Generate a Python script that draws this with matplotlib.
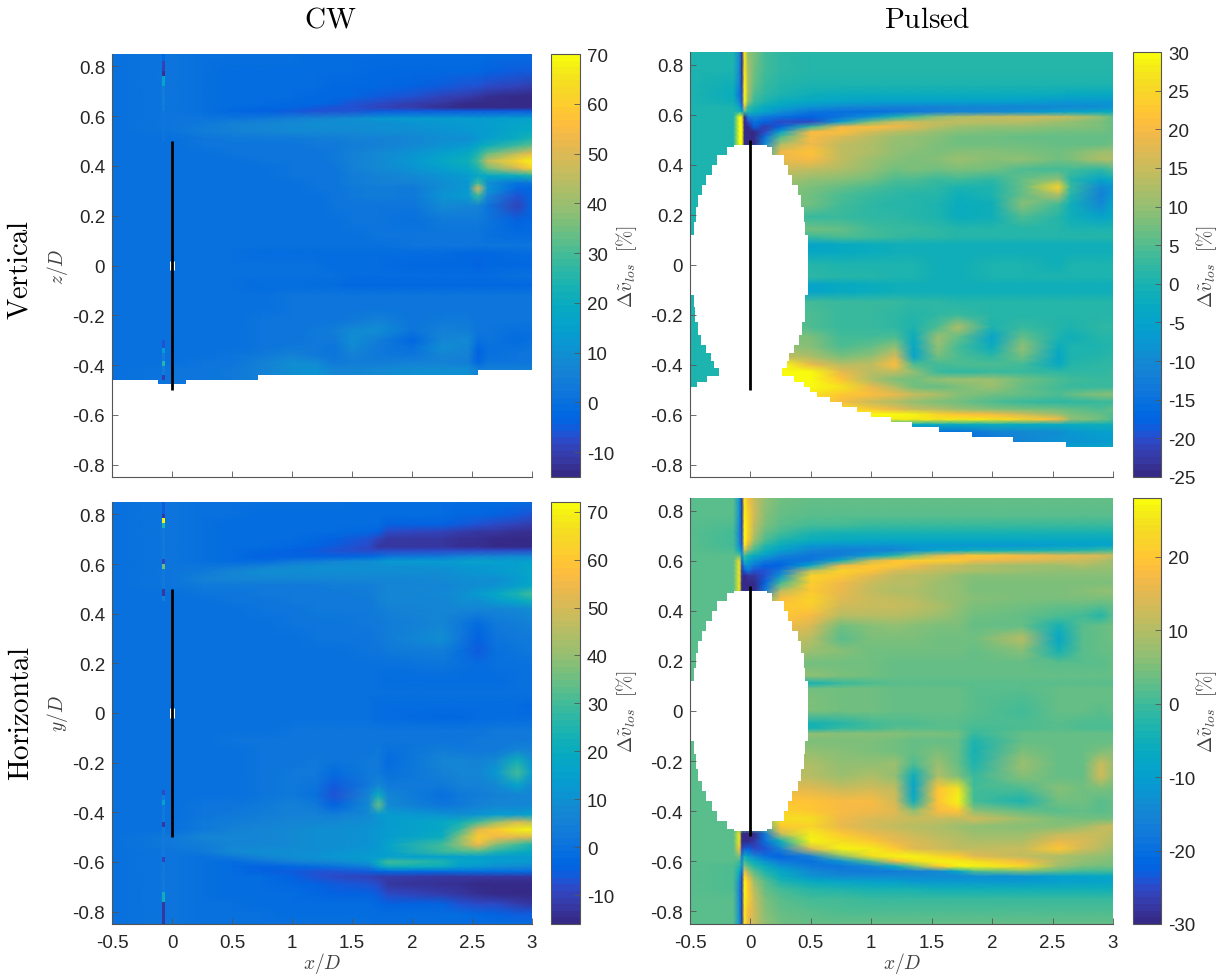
import matplotlib
matplotlib.use("Agg")
import matplotlib.pyplot as plt
from matplotlib.colors import ListedColormap, Normalize

parula = ListedColormap([
    (0.2081, 0.1663, 0.5292), (0.2116, 0.1898, 0.5777), (0.2123, 0.2138, 0.6270), (0.2081, 0.2386, 0.6771),
    (0.1959, 0.2645, 0.7279), (0.1707, 0.2919, 0.7792), (0.1253, 0.3242, 0.8303), (0.0591, 0.3598, 0.8683),
    (0.0117, 0.3875, 0.8820), (0.0060, 0.4086, 0.8828), (0.0165, 0.4266, 0.8786), (0.0329, 0.4430, 0.8720),
    (0.0498, 0.4586, 0.8641), (0.0629, 0.4737, 0.8554), (0.0723, 0.4887, 0.8467), (0.0779, 0.5040, 0.8384),
    (0.0793, 0.5200, 0.8312), (0.0749, 0.5375, 0.8263), (0.0641, 0.5570, 0.8240), (0.0488, 0.5772, 0.8228),
    (0.0343, 0.5966, 0.8199), (0.0265, 0.6137, 0.8135), (0.0239, 0.6287, 0.8038), (0.0231, 0.6418, 0.7913),
    (0.0228, 0.6535, 0.7768), (0.0267, 0.6642, 0.7607), (0.0384, 0.6743, 0.7436), (0.0590, 0.6838, 0.7254),
    (0.0843, 0.6928, 0.7062), (0.1133, 0.7015, 0.6859), (0.1453, 0.7098, 0.6646), (0.1801, 0.7177, 0.6424),
    (0.2178, 0.7250, 0.6193), (0.2586, 0.7317, 0.5954), (0.3022, 0.7376, 0.5712), (0.3482, 0.7424, 0.5473),
    (0.3953, 0.7459, 0.5244), (0.4420, 0.7481, 0.5033), (0.4871, 0.7491, 0.4840), (0.5300, 0.7491, 0.4661),
    (0.5709, 0.7485, 0.4494), (0.6099, 0.7473, 0.4337), (0.6473, 0.7456, 0.4188), (0.6834, 0.7435, 0.4044),
    (0.7184, 0.7411, 0.3905), (0.7525, 0.7384, 0.3768), (0.7858, 0.7356, 0.3633), (0.8185, 0.7327, 0.3498),
    (0.8507, 0.7299, 0.3360), (0.8824, 0.7274, 0.3217), (0.9139, 0.7258, 0.3063), (0.9450, 0.7261, 0.2886),
    (0.9739, 0.7314, 0.2666), (0.9938, 0.7455, 0.2403), (0.9990, 0.7653, 0.2164), (0.9955, 0.7861, 0.1967),
    (0.9880, 0.8066, 0.1794), (0.9789, 0.8271, 0.1633), (0.9697, 0.8481, 0.1475), (0.9626, 0.8705, 0.1309),
    (0.9589, 0.8949, 0.1132), (0.9598, 0.9218, 0.0948), (0.9661, 0.9514, 0.0755), (0.9763, 0.9831, 0.0538)])

# x positions of the table columns, one list per panel
cwv_x = [-0.5, 0, 0.25, 0.5, 0.75, 1, 1.2, 1.35, 1.5, 1.72, 2, 2.25, 2.47, 2.55, 2.63, 2.88, 3]
cwh_x = [-0.5, 0, 0.25, 0.5, 0.75, 1, 1.2, 1.35, 1.64, 1.72, 1.8, 2.25, 2.4, 2.55, 2.7, 2.88, 3]
pv_x = [-0.5, -0.14, -0.09, -0.07, -0.05, -0.02, 0.03, 0.12, 0.25, 0.5, 0.75, 1, 1.2, 1.35, 1.55, 1.72, 2, 2.25, 2.55, 2.65, 2.9, 3]
ph_x = [-0.5, -0.14, -0.09, -0.07, -0.05, -0.02, 0.03, 0.12, 0.25, 0.5, 0.75, 1, 1.2, 1.35, 1.55, 1.72, 1.85, 2.25, 2.55, 2.75, 2.9, 3]

# CW vertical
cwv_y = [0.85, 0.78, 0.72, 0.68, 0.65, 0.635, 0.62, 0.59, 0.57, 0.54, 0.51, 0.48, 0.45, 0.42, 0.39, 0.36, 0.33, 0.31, 0.28, 0.24,
         0.18, 0.12, 0.08, 0.05, 0.0, -0.04, -0.08, -0.12, -0.17, -0.22, -0.26, -0.30, -0.33, -0.36, -0.39, -0.42, -0.48]
cwv_vals = [
    [0, 1, 0, 0, 0, 0, -1, -1, -1, -1, -1, -1, -1, -1, -1, -1, -1],
    [0, 1, 0, -1, -1, -1, -1, -1, -1, -2, -2, -2, -3, -3, -4, -5, -5],
    [0, 1, 0, -1, -1, -1, -1, -2, -2, -3, -4, -5, -6, -7, -8, -9, -10],
    [0, 1, 0, -1, -1, -1, -2, -2, -3, -5, -7, -9, -11, -12, -13, -14, -15],
    [0, 1, 0, -1, -1, -2, -3, -4, -6, -8, -10, -12, -14, -14, -15, -15, -15],
    [0, 1, 0, -1, -2, -3, -5, -6, -7, -9, -11, -13, -14, -14, -14, -14, -14],
    [0, 1, 0, -2, -4, -5, -6, -6, -6, -5, -5, -5, -5, -5, -5, -5, -5],
    [0, 1, 1, 1, 3, 6, 7, 8, 10, 12, 13, 13, 13, 13, 14, 15, 15],
    [0, 1, 3, 5, 7, 8, 9, 9, 10, 10, 11, 12, 13, 14, 15, 16, 17],
    [0, 1, 4, 6, 7, 8, 8, 8, 8, 9, 10, 11, 12, 13, 14, 17, 19],
    [0, 0, 2, 3, 3, 3, 4, 4, 5, 6, 7, 9, 10, 12, 15, 20, 24],
    [0, 0, 1, 1, 2, 2, 3, 3, 4, 6, 8, 11, 14, 17, 22, 30, 33],
    [0, 0, 0, 1, 1, 2, 2, 3, 5, 8, 11, 15, 19, 24, 33, 45, 52],
    [0, 0, 0, 0, 1, 1, 2, 3, 5, 8, 12, 17, 22, 30, 45, 62, 68],
    [0, 0, 0, 0, 0, 1, 2, 2, 5, 8, 11, 15, 19, 24, 35, 50, 60],
    [0, 0, 0, 0, 0, 1, 1, 2, 4, 6, 8, 11, 13, 18, 18, 20, 24],
    [0, 0, 0, 0, 0, 0, 1, 2, 4, 5, 5, 10, 12, 30, 10, 0, 1],
    [0, 0, 0, 0, 0, 0, 1, 1, 3, 4, 3, 10, 12, 50, 12, -3, -3],
    [0, 0, 0, 0, 0, 0, 0, 1, 3, 4, 3, 11, 13, 28, 7, -6, -3],
    [0, 0, 0, 0, 0, 0, 0, 1, 2, 1, 1, 8, 7, 7, 2, -9, -3],
    [0, 0, 0, 0, 0, 0, 0, 0, 1, 1, 0, 3, 3, 3, 1, -4, -2],
    [0, 0, 0, 0, 0, 0, 0, 0, 0, 1, 1, 1, 1, 1, 0, -1, -1],
    [0, 0, 0, 0, 0, 0, 0, 0, 0, 0, 1, 1, 1, 1, 1, 1, 1],
    [0, 0, 0, 0, -1, -1, -1, -1, -1, -1, -1, -1, -2, -2, -2, -1, -1],
    [0, 0, 0, 0, 0, 0, 0, -1, -1, -1, -2, -2, -3, -4, -3, -2, -2],
    [0, 0, 0, 0, 0, 0, 0, 0, -1, -1, -1, -1, -1, -1, -1, 0, 0],
    [0, 0, 0, 0, -1, -1, -1, -1, -2, -2, -2, -2, -2, -2, -2, -2, -2],
    [0, 0, 0, 0, 0, 1, 1, 1, 1, 1, 2, 2, 2, 2, 2, 2, 2],
    [0, 0, 0, 0, 0, 1, 1, 1, 2, 2, 1, 1, 2, 2, 2, 1, 1],
    [0, 0, 0, 0, 1, 1, 2, 2, 3, 6, 2, 3, 3, 2, 1, 1, 1],
    [0, 0, 0, 0, 1, 2, 3, 4, 8, 9, 1, 5, 4, 2, 1, 0, 0],
    [0, 0, 0, 0, 1, 2, 3, 3, 9, 4, -3, 7, 8, 0, 1, -1, 0],
    [0, 0, 0, 0, 1, 3, 3, 2, 8, 3, 0, 9, 7, -2, 0, 0, 1],
    [0, 0, 0, 1, 3, 5, 3, 2, 5, 3, 2, 7, 5, -4, 0, 1, 1],
    [0, 0, 1, 2, 6, 9, 8, 3, 4, 4, 5, 6, 4, -3, 2, 2, 2],
    [0, 1, 1, 3, 6, 10, 11, 7, 7, 8, 9, 10, 9, 6, 6, 5, 5],
    [0, 1, 1, 3, 6, 10, 11, 7, 7, 8, 9, 10, 9, 6, 6, 5, 5],
]
cwv_strip_edges = [0.85, 0.82, 0.78, 0.76, 0.72, 0.62, 0.50, -0.30, -0.33, -0.35, -0.385, -0.405, -0.44, -0.46]
cwv_strip_vals = [-2, -9, -13, 16, 4, 2, 0, -6, 14, 4, 26, 4, -10]
cwv_edge_x = [-0.5, -0.12, 0.12, 0.72, 2.55, 3]
cwv_edge_y = [-0.46, -0.478, -0.46, -0.44, -0.42, -0.42]

# CW horizontal
cwh_y = [0.85, 0.80, 0.76, 0.73, 0.70, 0.67, 0.655, 0.63, 0.61, 0.59, 0.57, 0.54, 0.51, 0.48, 0.45, 0.42, 0.36, 0.30, 0.25, 0.19,
         0.13, 0.08, 0.03, -0.02, -0.07, -0.11, -0.15, -0.19, -0.24, -0.29, -0.33, -0.37, -0.41, -0.44, -0.47, -0.50, -0.53, -0.56,
         -0.58, -0.60, -0.62, -0.64, -0.66, -0.69, -0.73, -0.77, -0.81, -0.85]
cwh_vals = [
    [0, 1, 0, 0, 0, 0, 0, 0, -1, -1, -1, -1, -1, -1, -2, -2, -2],
    [0, 1, 0, 0, -1, -1, -1, -1, -1, -1, -2, -2, -3, -3, -4, -6, -7],
    [0, 1, 0, -1, -1, -1, -1, -2, -2, -2, -4, -5, -6, -7, -9, -10, -11],
    [0, 1, 0, -1, -1, -1, -2, -2, -3, -5, -9, -10, -11, -12, -13, -14, -14],
    [0, 1, 0, -1, -1, -2, -3, -4, -7, -10, -13, -13, -14, -14, -15, -15, -15],
    [0, 1, 0, -1, -2, -3, -4, -6, -9, -12, -13, -13, -14, -14, -15, -15, -15],
    [0, 1, 0, -2, -3, -4, -6, -7, -8, -8, -8, -8, -8, -8, -8, -8, -8],
    [0, 1, 0, -2, -4, -5, -5, -4, -3, -1, 1, 3, 5, 6, 7, 8, 8],
    [0, 1, 0, -1, -2, 2, 4, 6, 9, 11, 13, 14, 15, 16, 15, 15, 15],
    [0, 1, 1, 3, 5, 8, 9, 9, 9, 9, 10, 11, 12, 12, 13, 15, 17],
    [0, 1, 3, 7, 9, 9, 9, 9, 9, 9, 9, 10, 11, 12, 13, 15, 18],
    [0, 1, 5, 6, 6, 6, 6, 6, 6, 7, 7, 8, 9, 9, 10, 13, 16],
    [0, 1, 2, 3, 3, 3, 3, 4, 4, 5, 6, 7, 8, 9, 11, 15, 19],
    [0, 0, 1, 1, 2, 2, 3, 3, 4, 5, 6, 8, 10, 13, 17, 25, 30],
    [0, 0, 0, 1, 1, 2, 2, 3, 3, 5, 6, 7, 9, 10, 13, 18, 22],
    [0, 0, 0, 0, 1, 1, 2, 2, 3, 4, 5, 6, 7, 7, 7, 8, 10],
    [0, 0, 0, 0, 0, 1, 1, 1, 2, 3, 4, 7, 3, -1, 2, 4, 5],
    [0, 0, 0, 0, 0, 0, 1, 1, 1, 2, 4, 9, 2, -5, 1, 3, 3],
    [0, 0, 0, 0, 0, 0, 0, 0, 1, 1, 2, 4, 0, -6, 0, 1, 2],
    [0, 0, 0, 0, 0, 0, 0, 0, 0, 0, 0, 1, 0, -2, 0, 0, 0],
    [0, 0, 0, 0, 0, 0, 0, 0, 0, 0, -1, -1, -1, -2, -1, 0, 0],
    [0, 0, 0, 0, 0, 0, 0, 0, 0, 0, 0, 0, 0, 0, 0, 0, 0],
    [0, 0, 0, 0, 0, 0, 0, 0, 0, -1, -1, -1, -1, -1, -1, -2, -3],
    [0, 0, 0, 0, 0, 0, 0, 0, 0, -1, -2, -3, -3, -2, -2, -1, -1],
    [0, 0, 0, 0, 0, 1, 1, 1, 1, 1, 1, 1, 1, 1, 2, 2, 2],
    [0, 0, 0, 1, 1, 1, 1, 1, 1, 1, 1, 1, 1, 2, 2, 3, 3],
    [0, 0, 0, 0, 1, 1, 1, 1, 1, 2, 0, 4, 3, 2, 3, 6, 5],
    [0, 0, 0, 0, 1, 1, 2, 1, 3, 3, -1, 6, 7, 5, 8, 22, 10],
    [0, 0, 0, 0, 1, 2, 2, -2, 3, 3, 0, 5, 7, 6, 12, 30, 14],
    [0, 0, 0, 0, 1, 2, 1, -6, 3, 6, 3, 3, 5, 5, 8, 16, 8],
    [0, 0, 0, 0, 1, 3, 0, -7, 7, 20, 6, 0, 3, 4, 5, 7, 6],
    [0, 0, 1, 1, 2, 5, 3, -4, 8, 34, 8, 1, 3, 5, 6, 7, 6],
    [0, 0, 1, 2, 4, 5, 5, 4, 8, 12, 14, 11, 10, 11, 13, 14, 16],
    [0, 0, 2, 4, 5, 6, 7, 8, 9, 11, 14, 17, 22, 30, 40, 50, 45],
    [0, 0, 3, 5, 7, 8, 9, 10, 11, 12, 14, 18, 28, 52, 60, 68, 70],
    [0, 3, 6, 7, 7, 8, 9, 10, 11, 12, 14, 20, 38, 62, 55, 52, 50],
    [0, 2, 4, 6, 7, 8, 9, 10, 11, 12, 16, 30, 40, 55, 38, 30, 25],
    [0, 1, 3, 8, 9, 9, 10, 11, 12, 13, 15, 28, 30, 32, 25, 20, 18],
    [0, 1, 0, 3, 6, 10, 11, 12, 13, 14, 15, 15, 15, 15, 14, 14, 14],
    [0, 1, 0, -1, 1, 5, 6, 8, 12, 22, 30, 24, 18, 16, 14, 13, 12],
    [0, 1, 0, -2, -4, -3, -2, 0, 4, 14, 22, 20, 14, 12, 10, 8, 7],
    [0, 1, 0, -2, -4, -6, -7, -7, -6, -5, -3, -3, -2, -2, -2, -2, -2],
    [0, 1, 0, -1, -2, -5, -7, -8, -10, -11, -11, -12, -12, -12, -12, -12, -12],
    [0, 1, 0, -1, -2, -3, -5, -6, -7, -9, -12, -14, -14, -15, -15, -15, -15],
    [0, 1, 0, -1, -1, -2, -3, -4, -5, -6, -8, -11, -13, -14, -15, -15, -15],
    [0, 1, 0, 0, -1, -1, -1, -2, -2, -3, -4, -5, -7, -8, -9, -11, -12],
    [0, 1, 0, 0, 0, -1, -1, -1, -1, -1, -2, -2, -2, -3, -4, -6, -6],
    [0, 1, 0, 0, 0, 0, 0, 0, 0, -1, -1, -1, -1, -1, -1, -2, -2],
]
cwh_strip_edges = [0.85, 0.80, 0.785, 0.765, 0.745, 0.62, 0.60, 0.58, 0.50, 0.47, 0.45, -0.31, -0.33, -0.35, -0.37, -0.44,
                   -0.46, -0.58, -0.60, -0.72, -0.76, -0.85]
cwh_strip_vals = [-6, -12, 70, 25, 3, -10, 35, 3, -12, 5, 0, -9, 4, 15, 2, -12, 2, -10, 3, 22, -12]

# Pulsed vertical
pv_y = [0.85, 0.78, 0.72, 0.68, 0.65, 0.63, 0.61, 0.59, 0.57, 0.55, 0.53, 0.51, 0.48, 0.45, 0.42, 0.38, 0.34, 0.31, 0.28, 0.24,
        0.19, 0.14, 0.11, 0.08, 0.05, 0.0, -0.05, -0.08, -0.11, -0.15, -0.2, -0.25, -0.29, -0.33, -0.37, -0.40, -0.43, -0.46, -0.49,
        -0.52, -0.55, -0.58, -0.60, -0.62, -0.64, -0.67, -0.71, -0.74, -0.85]
pv_vals = [
    [0, 0, -10, -24, 28, 10, 8, 4, 2, 1, 1, 1, 1, 1, 1, 1, 1, 1, 1, 1, 1, 1],
    [0, 0, -10, -24, 28, 12, 7, 4, 2, 1, 1, 1, 1, 1, 1, 1, 1, 1, 1, 1, 1, 1],
    [0, -1, -12, -23, 30, 12, 6, 3, 1, 0, 0, 0, 0, 0, 0, 0, 0, 0, 0, 0, 0, 0],
    [0, -2, -14, -20, 30, 12, 5, 2, 0, -1, -2, -2, -2, -2, -2, -2, -2, -2, -2, -3, -3, -3],
    [0, -1, -10, -20, 30, 10, 3, 0, -2, -4, -5, -6, -6, -6, -6, -6, -6, -6, -7, -7, -7, -7],
    [0, 0, -5, -15, 20, 3, 0, -3, -5, -8, -10, -11, -12, -12, -12, -11, -11, -11, -10, -10, -9, -8],
    [0, 0, 0, -5, 5, 0, -2, -5, -9, -14, -15, -15, -14, -13, -12, -11, -10, -8, -6, -5, -3, -2],
    [0, 0, 30, 28, -25, -12, -10, -13, -15, -18, -14, -8, 0, 5, 10, 12, 14, 15, 15, 14, 10, 6],
    [0, 0, 30, 28, -25, -20, -15, -18, -20, -20, -6, 8, 15, 15, 14, 14, 13, 13, 11, 10, 8, 6],
    [0, 0, 30, 30, -25, -25, -18, -22, -18, 3, 19, 21, 19, 17, 13, 11, 10, 10, 9, 9, 8, 6],
    [0, 0, 30, 30, -25, -25, -25, -20, -5, 20, 21, 16, 13, 12, 10, 9, 8, 8, 7, 7, 7, 6],
    [0, 0, 30, 30, -25, -25, -25, -15, 5, 20, 17, 13, 11, 10, 9, 7, 7, 6, 6, 6, 6, 6],
    [0, 0, 30, 30, -25, -25, -25, -10, 12, 19, 14, 12, 10, 10, 8, 7, 7, 7, 6, 6, 6, 7],
    [0, 0, 0, 0, 0, 0, 0, 0, 19, 22, 14, 12, 10, 9, 8, 9, 9, 8, 7, 8, 11, 11],
    [0, 0, 0, 0, 0, 0, 0, 0, 18, 20, 14, 11, 9, 8, 9, 11, 9, 10, 7, 8, 12, 12],
    [0, 0, 0, 0, 0, 0, 0, 0, 15, 14, 12, 10, 7, 8, 7, 8, 7, 5, 4, 4, 2, 5],
    [0, 0, 0, 0, 0, 0, 0, 0, 12, 10, 9, 7, 5, 5, 3, 4, 2, 6, 10, 1, -5, -2],
    [0, 0, 0, 0, 0, 0, 0, 0, 10, 8, 6, 5, 3, 3, 2, 0, 0, 6, 24, 3, -10, -7],
    [0, 0, 0, 0, 0, 0, 0, 0, 9, 7, 5, 3, 2, 1, 1, -1, 0, 6, 13, 1, -12, -7],
    [0, 0, 0, 0, 0, 0, 0, 0, 8, 7, 4, 2, 1, 1, 0, -2, -1, 9, 4, -1, -10, -4],
    [0, 0, 0, 0, 0, 0, 0, 0, 5, 3, 3, 2, 2, 1, 0, -2, -1, 5, 1, -1, -5, -3],
    [0, 0, 0, 0, 0, 0, 0, 0, 7, 7, 6, 4, 3, 3, 2, 1, 1, 1, 1, 0, 0, 0],
    [0, 0, 0, 0, 0, 0, 0, 0, 4, 3, 5, 4, 3, 2, 2, 1, 1, 1, 1, 1, 1, 1],
    [0, 0, 0, 0, 0, 0, 0, 0, -4, -5, -3, -2, -1, -1, -1, -1, -1, -1, -1, -1, -1, -1],
    [0, 0, 0, 0, 0, 0, 0, 0, -3, -4, -3, -2, -1, -1, -1, -1, -1, -1, -1, -1, -1, -1],
    [0, 0, 0, 0, 0, 0, 0, 0, 1, 1, 0, 0, 0, 0, -1, -1, 0, 0, -1, 0, 0, 0],
    [0, 0, 0, 0, 0, 0, 0, 0, 2, 2, 1, 1, 0, 0, -1, -1, 0, 0, 0, 0, 0, 0],
    [0, 0, 0, 0, 0, 0, 0, 0, -4, -5, -3, -2, -1, -1, -1, -1, -1, -1, -1, -1, -1, -1],
    [0, 0, 0, 0, 0, 0, 0, 0, -4, -5, -3, -2, -1, -1, -1, -1, -1, -1, -1, -1, -1, -1],
    [0, 0, 0, 0, 0, 0, 0, 0, 5, 4, 3, 3, 3, 2, 2, 1, 1, 1, 1, 1, 1, 1],
    [0, 0, 0, 0, 0, 0, 0, 0, 5, 5, 3, 3, 2, 1, 2, 3, 1, 1, 1, 1, 1, 1],
    [0, 0, 0, 0, 0, 0, 0, 0, 7, 5, 3, 3, 2, 0, 5, 12, 0, 3, 1, 0, 2, 2],
    [0, 0, 0, 0, 0, 0, 0, 0, 9, 8, 4, 4, 5, -2, 11, 6, -5, 6, 0, -1, 1, 1],
    [0, 0, 0, 0, 0, 0, 0, 0, 10, 9, 5, 6, 10, -4, 10, 4, -2, 10, -2, 0, 0, 1],
    [0, 0, 0, 0, 0, 0, 0, 0, 15, 12, 8, 10, 17, -5, 7, 5, 2, 7, -4, 0, 1, 2],
    [0, 0, 0, 0, 0, 0, 0, 0, 30, 18, 13, 14, 21, 5, 4, 5, 5, 4, -3, 1, 2, 2],
    [0, 0, 0, 0, 0, 0, 0, 0, 30, 30, 18, 13, 14, 10, 3, 2, 3, 3, 2, 2, 2, 3],
    [0, 0, 0, 0, 0, 0, 0, 0, 30, 30, 22, 12, 8, 7, 10, 11, 11, 7, 5, 4, 3, 3],
    [0, 0, 0, 0, 0, 0, 0, 0, 30, 30, 27, 18, 12, 7, 6, 8, 11, 6, 4, 3, 3, 3],
    [0, 0, 0, 0, 0, 0, 0, 0, 30, 27, 23, 21, 18, 15, 12, 9, 7, 6, 5, 6, 9, 9],
    [0, 0, 0, 0, 0, 0, 0, 0, 30, 27, 20, 15, 12, 10, 8, 7, 5, 3, 2, 2, 3, 3],
    [0, 0, 0, 0, 0, 0, 0, 0, 30, 27, 27, 23, 18, 15, 13, 11, 9, 8, 7, 6, 5, 6],
    [0, 0, 0, 0, 0, 0, 0, 0, 30, 28, 28, 30, 30, 29, 24, 22, 20, 16, 11, 8, 6, 5],
    [0, 0, 0, 0, 0, 0, 0, 0, 30, 28, 28, 28, 28, 28, 27, 28, 27, 24, 20, 10, 7, 5],
    [0, 0, 0, 0, 0, 0, 0, 0, 0, 0, 0, 0, -2, -3, -2, -2, -1, -2, -2, -2, -1, -1],
    [0, 0, 0, 0, 0, 0, 0, 0, 0, 0, 0, 0, -5, -12, -15, -15, -12, -10, -9, -7, -6, -6],
    [0, 0, 0, 0, 0, 0, 0, 0, 0, 0, 0, 0, 0, 0, 0, -16, -14, -11, -8, -8, -7, -6],
    [0, 0, 0, 0, 0, 0, 0, 0, 0, 0, 0, 0, 0, 0, 0, 0, 0, -7, -6, -4, -3, -2],
    [0, 0, 0, 0, 0, 0, 0, 0, 0, 0, 0, 0, 0, 0, 0, 0, 0, 0, 0, -1, -1, -1],
]
pv_hole_y = [0.48, 0.46, 0.42, 0.38, 0.34, 0.30, 0.26, 0.20, 0.14, 0.10, 0.0, -0.10, -0.14, -0.20, -0.26, -0.30, -0.34, -0.37, -0.40,
             -0.43, -0.46, -0.48, -0.50, -0.52, -0.54, -0.56, -0.58, -0.60, -0.62, -0.64, -0.66, -0.68, -0.70, -0.72, -0.74, -0.85]
pv_hole_left = [-0.14, -0.19, -0.28, -0.32, -0.37, -0.40, -0.43, -0.45, -0.47, -0.49, -0.49, -0.49, -0.47, -0.46, -0.43, -0.41, -0.365,
                -0.33, -0.30, -0.26, -0.36, -0.44, -0.5, -0.5, -0.5, -0.5, -0.5, -0.5, -0.5, -0.5, -0.5, -0.5, -0.5, -0.5, -0.5, -0.5]
pv_hole_right = [0.135, 0.18, 0.28, 0.31, 0.345, 0.39, 0.42, 0.44, 0.45, 0.475, 0.475, 0.475, 0.45, 0.45, 0.425, 0.40, 0.36, 0.32, 0.30,
                 0.26, 0.36, 0.44, 0.49, 0.55, 0.66, 0.76, 0.88, 1.0, 1.16, 1.34, 1.56, 1.83, 2.17, 2.61, 3.0, 3.0]

# Pulsed horizontal
ph_y = [0.85, 0.78, 0.74, 0.71, 0.68, 0.66, 0.64, 0.62, 0.60, 0.58, 0.56, 0.54, 0.51, 0.48, 0.45, 0.42, 0.38, 0.34, 0.29, 0.24, 0.19,
        0.14, 0.11, 0.09, 0.05, 0.0, -0.05, -0.07, -0.09, -0.12, -0.16, -0.21, -0.26, -0.31, -0.36, -0.40, -0.43, -0.46, -0.49, -0.52,
        -0.55, -0.58, -0.60, -0.62, -0.64, -0.66, -0.68, -0.71, -0.75, -0.80, -0.85]
ph_vals = [
    [2, 2, -12, -28, 26, 18, 12, 7, 4, 3, 3, 3, 3, 3, 3, 3, 3, 3, 3, 3, 3, 3],
    [2, 2, -12, -28, 27, 22, 13, 6, 3, 2, 2, 2, 2, 2, 2, 2, 2, 2, 2, 2, 2, 2],
    [2, 1, -14, -27, 28, 22, 11, 5, 2, 0, 0, -1, -1, -1, -1, -1, -1, -1, -1, -1, -1, -1],
    [2, 0, -15, -26, 28, 22, 10, 3, 0, -3, -4, -4, -4, -4, -4, -4, -4, -4, -4, -4, -4, -4],
    [2, 0, -14, -26, 28, 20, 8, 1, -3, -6, -7, -8, -8, -8, -8, -8, -8, -8, -8, -8, -8, -8],
    [2, 0, -13, -24, 26, 14, 4, -2, -6, -11, -12, -12, -12, -11, -11, -11, -11, -11, -10, -10, -9, -9],
    [2, 1, -8, -18, 14, 6, 0, -5, -10, -15, -17, -16, -15, -12, -8, -7, -5, -4, -3, -2, -1, 0],
    [2, 2, 3, -12, 0, -3, -6, -10, -15, -19, -17, -10, -2, 5, 14, 18, 20, 18, 16, 15, 14, 12],
    [2, 2, 24, -20, -3, -8, -12, -17, -20, -19, -6, 12, 19, 21, 21, 20, 17, 15, 13, 12, 10, 8],
    [2, 2, 26, -25, -14, -12, -18, -22, -22, -8, 16, 20, 20, 17, 13, 11, 9, 8, 8, 9, 8, 8],
    [2, 2, 26, -28, -22, -18, -24, -24, -18, 10, 22, 19, 14, 13, 11, 10, 9, 8, 7, 7, 7, 7],
    [2, 2, 26, -28, -30, -28, -28, -24, -12, 22, 20, 15, 11, 10, 9, 7, 6, 6, 6, 6, 6, 6],
    [2, 2, 26, -30, -30, -30, -30, -22, 0, 21, 17, 12, 10, 10, 8, 7, 5, 5, 5, 5, 5, 5],
    [2, 2, 26, -30, -30, -30, -30, -18, 10, 20, 16, 11, 9, 9, 8, 7, 5, 5, 5, 6, 7, 7],
    [2, 2, 2, 2, 2, 2, 2, 2, 18, 22, 15, 12, 11, 10, 8, 7, 6, 5, 5, 5, 5, 5],
    [2, 2, 2, 2, 2, 2, 2, 2, 20, 21, 13, 12, 12, 11, 9, 7, 5, 4, 3, 3, 2, 3],
    [2, 2, 2, 2, 2, 2, 2, 2, 20, 18, 10, 10, 10, 9, 8, 6, 4, 3, 1, 0, -2, 2],
    [2, 2, 2, 2, 2, 2, 2, 2, 18, 14, 4, 6, 7, 6, 5, 5, 3, 3, -4, 2, 3, 4],
    [2, 2, 2, 2, 2, 2, 2, 2, 13, 10, 2, 5, 5, 5, 4, 4, 4, 10, -8, 2, 3, 4],
    [2, 2, 2, 2, 2, 2, 2, 2, 10, 8, 6, 4, 4, 4, 4, 4, 3, 6, -4, 2, 3, 3],
    [2, 2, 2, 2, 2, 2, 2, 2, 5, 4, 4, 4, 3, 3, 3, 3, 3, 3, 2, 2, 2, 3],
    [2, 2, 2, 2, 2, 2, 2, 2, 7, 7, 5, 4, 3, 3, 3, 3, 3, 3, 3, 3, 3, 3],
    [2, 2, 2, 2, 2, 2, 2, 2, -3, -4, -1, 1, 2, 2, 2, 2, 2, 2, 2, 2, 2, 2],
    [2, 2, 2, 2, 2, 2, 2, 2, 3, 4, 4, 4, 3, 3, 3, 3, 2, 2, 3, 3, 3, 3],
    [2, 2, 2, 2, 2, 2, 2, 2, 5, 5, 4, 4, 3, 3, 3, 3, 2, 1, 3, 3, 3, 3],
    [2, 2, 2, 2, 2, 2, 2, 2, 6, 5, 4, 4, 3, 3, 3, 3, 2, 0, 3, 3, 2, 3],
    [2, 2, 2, 2, 2, 2, 2, 2, -4, -4, -2, 0, 1, 1, 2, 2, 1, 1, 2, 1, 1, 1],
    [2, 2, 2, 2, 2, 2, 2, 2, -4, -4, -1, 0, 2, 2, 2, 2, 0, 1, 2, 1, 1, 1],
    [2, 2, 2, 2, 2, 2, 2, 2, 7, 7, 6, 6, 6, 5, 5, 4, -1, 3, 3, 3, 3, 3],
    [2, 2, 2, 2, 2, 2, 2, 2, 6, 5, 5, 5, 4, 3, 3, 3, -3, 3, 3, 3, 3, 3],
    [2, 2, 2, 2, 2, 2, 2, 2, 7, 7, 6, 5, 4, 3, 5, 3, -4, 5, 3, 3, 5, 6],
    [2, 2, 2, 2, 2, 2, 2, 2, 9, 9, 7, 7, 8, 1, 8, 3, -3, 8, 3, 3, 12, 8],
    [2, 2, 2, 2, 2, 2, 2, 2, 11, 10, 8, 9, 7, -6, 9, 5, -1, 6, 3, 3, 13, 7],
    [2, 2, 2, 2, 2, 2, 2, 2, 16, 15, 12, 13, 11, -9, 19, 25, 0, 1, 6, 4, 5, 4],
    [2, 2, 2, 2, 2, 2, 2, 2, 19, 19, 18, 18, 13, -6, 19, 27, 0, -3, 4, 4, 2, 3],
    [2, 2, 2, 2, 2, 2, 2, 2, 22, 20, 18, 17, 15, 7, 18, 19, 7, 3, 2, 3, 2, 3],
    [2, 2, 2, 2, 2, 2, 2, 2, 24, 24, 17, 14, 13, 12, 12, 11, 13, 8, 5, 4, 4, 4],
    [2, 2, 2, 2, 2, 2, 2, 2, 20, 22, 16, 13, 11, 10, 9, 8, 7, 6, 6, 8, 11, 12],
    [2, 2, 26, -30, -30, -30, -30, -18, 12, 26, 20, 16, 14, 12, 10, 9, 8, 8, 11, 12, 12, 10],
    [2, 2, 26, -30, -30, -30, -28, -20, -5, 27, 24, 20, 16, 14, 12, 10, 9, 9, 16, 14, 11, 9],
    [2, 2, 20, -26, -24, -22, -25, -24, -15, 14, 27, 26, 20, 15, 13, 11, 11, 12, 20, 13, 10, 8],
    [2, 2, 6, -18, -4, -10, -14, -20, -22, -16, 6, 24, 27, 27, 23, 20, 15, 11, 9, 8, 7, 6],
    [2, 2, 0, -14, 0, -3, -6, -12, -18, -20, -12, 2, 18, 24, 27, 26, 24, 18, 9, 7, 6, 5],
    [2, 1, -2, -15, 6, 2, -2, -6, -12, -18, -19, -14, -6, 4, 20, 27, 27, 23, 8, 5, 4, 4],
    [2, 1, -6, -20, 16, 8, 2, -3, -8, -14, -17, -18, -17, -16, -14, -8, 1, 5, 2, 0, 0, 0],
    [2, 1, -10, -26, 24, 14, 5, -1, -6, -12, -14, -14, -14, -14, -14, -14, -13, -12, -10, -9, -8, -8],
    [2, 1, -13, -27, 27, 20, 8, 2, -3, -7, -9, -10, -10, -11, -11, -11, -11, -11, -10, -10, -9, -9],
    [2, 1, -15, -27, 28, 20, 10, 3, 0, -2, -3, -4, -4, -4, -5, -5, -5, -5, -5, -5, -5, -5],
    [2, 2, -14, -27, 27, 21, 12, 5, 2, 0, 0, -1, -1, -1, -1, -1, -1, -1, -1, -1, -1, -1],
    [2, 2, -13, -28, 26, 18, 13, 6, 3, 2, 1, 1, 1, 1, 1, 1, 1, 1, 1, 1, 1, 1],
    [2, 2, -12, -28, 26, 16, 12, 7, 4, 3, 3, 3, 3, 3, 3, 3, 3, 3, 3, 3, 3, 3],
]
ph_hole_y = [0.48, 0.46, 0.42, 0.38, 0.34, 0.30, 0.26, 0.20, 0.14, 0.10, 0.0, -0.10, -0.14, -0.20, -0.26, -0.30, -0.34, -0.38, -0.42, -0.46, -0.48]
ph_hole_left = [-0.14, -0.19, -0.28, -0.32, -0.37, -0.40, -0.43, -0.45, -0.47, -0.49, -0.49, -0.49, -0.47, -0.45, -0.43, -0.40, -0.37, -0.32, -0.28, -0.19, -0.14]
ph_hole_right = [0.135, 0.18, 0.28, 0.31, 0.345, 0.39, 0.42, 0.44, 0.45, 0.475, 0.475, 0.475, 0.45, 0.44, 0.42, 0.39, 0.345, 0.31, 0.28, 0.18, 0.135]

cw_vert_ticks = [-10, 0, 10, 20, 30, 40, 50, 60, 70]
cw_horz_ticks = [-10, 0, 10, 20, 30, 40, 50, 60, 70]
pulsed_vert_ticks = [-25, -20, -15, -10, -5, 0, 5, 10, 15, 20, 25, 30]
pulsed_horz_ticks = [-30, -20, -10, 0, 10, 20]
y_ticks = [-0.8, -0.6, -0.4, -0.2, 0, 0.2, 0.4, 0.6, 0.8]
y_tick_labels = ["-0.8", "-0.6", "-0.4", "-0.2", "0", "0.2", "0.4", "0.6", "0.8"]
x_ticks = [-0.5, 0, 0.5, 1, 1.5, 2, 2.5, 3]
x_tick_labels = ["-0.5", "0", "0.5", "1", "1.5", "2", "2.5", "3"]

plt.rcParams["font.family"] = ["Liberation Sans", "DejaVu Sans"]
plt.rcParams["mathtext.fontset"] = "cm"
W, H = 1222, 978
DARK = "#262626"
GREY = "#555555"
LABEL = "#404040"

fig = plt.figure(figsize=(W / 100, H / 100), dpi=100)


def box(x0, y0, x1, y1):
    return [x0 / W, 1 - y1 / H, (x1 - x0) / W, (y1 - y0) / H]


def panel(rect, crect, x, y, vals, vmin, vmax, cticks, xlab):
    ax = fig.add_axes(box(*rect))
    norm = Normalize(vmin, vmax)
    mesh = ax.pcolormesh(x, y, vals, cmap=parula, norm=norm, shading="gouraud")
    ax.set_xlim(-0.5, 3)
    ax.set_ylim(-0.85, 0.85)
    ax.set_xticks(x_ticks)
    ax.set_xticklabels(x_tick_labels if xlab else [])
    ax.set_yticks(y_ticks)
    ax.set_yticklabels(y_tick_labels)
    ax.tick_params(direction="in", length=4, width=0.6, color=GREY, labelcolor=DARK, labelsize=13.5)
    ax.tick_params(axis="x", pad=7)
    ax.tick_params(axis="y", pad=5)
    ax.spines["top"].set_visible(False)
    ax.spines["right"].set_visible(False)
    ax.spines["left"].set_color(GREY)
    ax.spines["bottom"].set_color(GREY)
    cax = fig.add_axes(box(*crect))
    cb = fig.colorbar(mesh, cax=cax)
    cb.set_ticks(cticks)
    cb.set_ticklabels([str(t) for t in cticks])
    cax.tick_params(direction="in", length=4, width=0.6, color=GREY, labelcolor=DARK, labelsize=13.5, pad=5)
    cb.outline.set_edgecolor(GREY)
    cb.outline.set_linewidth(0.8)
    return ax, norm


def strip(ax, edges, vals, norm):
    ax.pcolormesh([-0.08, -0.055], edges, [[v] for v in vals], cmap=parula, norm=norm, shading="flat")


def blade(ax, with_hub):
    if with_hub:
        ax.plot([0, 0], [-0.02, 0.02], color="white", lw=3.6, solid_capstyle="butt")
    ax.plot([0, 0], [-0.5, 0.5], color="black", lw=2, solid_capstyle="butt")


ax, norm = panel((112, 55, 532, 478), (551, 55, 580, 478), cwv_x, cwv_y, cwv_vals, -15, 70, cw_vert_ticks, False)
strip(ax, cwv_strip_edges, cwv_strip_vals, norm)
ax.fill_between(cwv_edge_x, -0.85, cwv_edge_y, step="post", color="white", lw=0)
blade(ax, True)

ax, norm = panel((690, 53, 1113, 478), (1133, 53, 1161, 478), pv_x, pv_y, pv_vals, -25, 30, pulsed_vert_ticks, False)
ax.fill_betweenx(pv_hole_y, pv_hole_left, pv_hole_right, step="mid", color="white", lw=0)
blade(ax, False)

ax, norm = panel((112, 503, 532, 925), (551, 503, 580, 925), cwh_x, cwh_y, cwh_vals, -16, 72, cw_horz_ticks, True)
strip(ax, cwh_strip_edges, cwh_strip_vals, norm)
blade(ax, True)

ax, norm = panel((690, 499, 1113, 925), (1133, 499, 1161, 925), ph_x, ph_y, ph_vals, -30, 28, pulsed_horz_ticks, True)
ax.fill_betweenx(ph_hole_y, ph_hole_left, ph_hole_right, step="mid", color="white", lw=0)
blade(ax, False)


def label(x, y, s, size, color="black", rot=0):
    fig.text(x / W, 1 - y / H, s, fontsize=size, color=color, rotation=rot, ha="center", va="center")


label(330, 20, r"$\mathrm{CW}$", 21)
label(927, 20, r"$\mathrm{Pulsed}$", 21)
label(21, 270, r"$\mathrm{Vertical}$", 20.5, rot=90)
label(21, 713, r"$\mathrm{Horizontal}$", 21, rot=90)
label(58, 267, r"$z/D$", 14, LABEL, 90)
label(58, 714, r"$y/D$", 14, LABEL, 90)
label(322, 964, r"$x/D$", 14, LABEL)
label(902, 964, r"$x/D$", 14, LABEL)
cbar_label = r"$\Delta\tilde{v}_{los}\ \ [\%]$"
label(627, 267, cbar_label, 14, LABEL, 90)
label(1207, 267, cbar_label, 14, LABEL, 90)
label(627, 712, cbar_label, 14, LABEL, 90)
label(1207, 712, cbar_label, 14, LABEL, 90)

fig.savefig("out.png", dpi=100)
